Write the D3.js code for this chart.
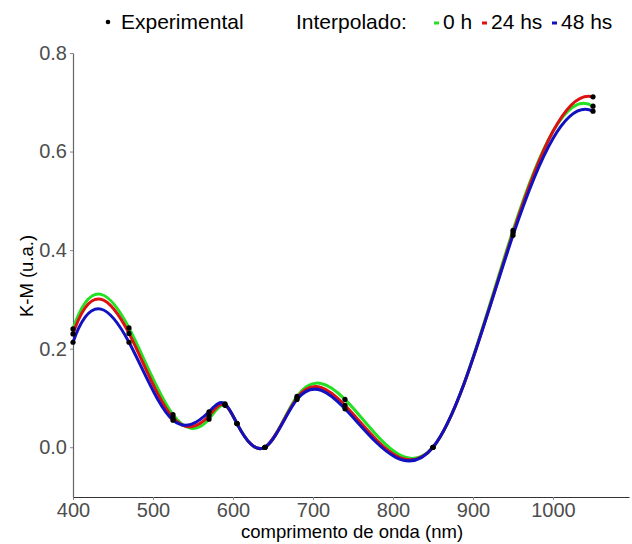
<!DOCTYPE html>
<html>
<head>
<meta charset="utf-8">
<script src="https://cdn.jsdelivr.net/npm/d3@7"></script>
<style>
  body { margin: 0; background: #fff; }
  svg { display: block; font-family: "Liberation Sans", Arial, sans-serif; }
</style>
</head>
<body>
<svg id="chart" width="632" height="544"></svg>
<script>
// wavelengths (nm) and K-M values
const wavelengths = [400, 470, 525, 570, 590, 605, 640, 680, 740, 850, 950, 1050];
const km0h  = [0.240, 0.242, 0.066, 0.057, 0.085, 0.048, 0.0, 0.103, 0.097, 0.0, 0.440, 0.692];
const km24h = [0.230, 0.231, 0.060, 0.064, 0.086, 0.048, 0.0, 0.100, 0.085, 0.0, 0.435, 0.711];
const km48h = [0.213, 0.213, 0.055, 0.072, 0.088, 0.048, 0.0, 0.097, 0.078, 0.0, 0.430, 0.682];
const seriesNames = ["0 h", "24 hs", "48 hs"];
const seriesColors = ["#22e022", "#dd1111", "#1111c0"];
const xTicks = [400, 500, 600, 700, 800, 900, 1000];
const yTicks = [0.0, 0.2, 0.4, 0.6, 0.8];

const svg = d3.select("#chart");
const plotLeft = 73, plotRight = 629, plotTop = 53, plotBottom = 497;

const x = d3.scaleLinear().domain([400, 1095]).range([plotLeft, plotRight]);
const y = d3.scaleLinear().domain([-0.101, 0.8]).range([plotBottom, plotTop]);

// cubic spline in x with Forsythe-Malcolm-Moler end conditions, drawn as bezier pieces
function curveSplineX(context) {
    let pts = [];
    return {
        areaStart() {}, areaEnd() {},
        lineStart() { pts = []; },
        point(px, py) { pts.push([+px, +py]); },
        lineEnd() {
            const n = pts.length;
            if (n < 4) return;
            const X = pts.map(p => p[0]), Y = pts.map(p => p[1]);
            const b = new Array(n).fill(0), c = new Array(n).fill(0), d = new Array(n).fill(0);
            d[0] = X[1] - X[0];
            c[1] = (Y[1] - Y[0]) / d[0];
            for (let k = 1; k <= n - 2; k++) {
                d[k] = X[k + 1] - X[k];
                b[k] = 2 * (d[k - 1] + d[k]);
                c[k + 1] = (Y[k + 1] - Y[k]) / d[k];
                c[k] = c[k + 1] - c[k];
            }
            b[0] = -d[0];
            b[n - 1] = -d[n - 2];
            c[0] = c[2] / (X[3] - X[1]) - c[1] / (X[2] - X[0]);
            c[n - 1] = c[n - 2] / (X[n - 1] - X[n - 3]) - c[n - 3] / (X[n - 2] - X[n - 4]);
            c[0] = c[0] * d[0] * d[0] / (X[3] - X[0]);
            c[n - 1] = -c[n - 1] * d[n - 2] * d[n - 2] / (X[n - 1] - X[n - 4]);
            for (let k = 1; k <= n - 1; k++) {
                const t = d[k - 1] / b[k - 1];
                b[k] -= t * d[k - 1];
                c[k] -= t * c[k - 1];
            }
            c[n - 1] /= b[n - 1];
            for (let k = n - 2; k >= 0; k--) c[k] = (c[k] - d[k] * c[k + 1]) / b[k];
            // slopes at the knots
            const slope = new Array(n);
            slope[n - 1] = (Y[n - 1] - Y[n - 2]) / d[n - 2] + d[n - 2] * (c[n - 2] + 2 * c[n - 1]);
            for (let k = 0; k <= n - 2; k++) slope[k] = (Y[k + 1] - Y[k]) / d[k] - d[k] * (c[k + 1] + 2 * c[k]);

            context.moveTo(X[0], Y[0]);
            for (let k = 0; k < n - 1; k++) {
                const h = X[k + 1] - X[k];
                context.bezierCurveTo(X[k] + h / 3, Y[k] + slope[k] * h / 3,
                    X[k + 1] - h / 3, Y[k + 1] - slope[k + 1] * h / 3, X[k + 1], Y[k + 1]);
            }
        }
    };
}

// axes
const xAxis = svg.append("g")
    .attr("transform", `translate(0,${plotBottom})`)
    .call(d3.axisBottom(x).tickValues(xTicks).tickFormat(d3.format("d")).tickSize(3).tickSizeOuter(0).tickPadding(3));
xAxis.select(".domain").attr("stroke", "#333").attr("stroke-width", 1.2);
xAxis.selectAll(".tick line").attr("stroke", "#888");
xAxis.selectAll(".tick text").attr("fill", "#4d4d4d").style("font-size", "20px");

const yAxis = svg.append("g")
    .attr("transform", `translate(${plotLeft},0)`)
    .call(d3.axisLeft(y).tickValues(yTicks).tickFormat(d3.format(".1f")).tickSize(3).tickSizeOuter(0).tickPadding(3));
yAxis.select(".domain").attr("stroke", "#666").attr("stroke-width", 1.2);
yAxis.selectAll(".tick line").attr("stroke", "#888");
yAxis.selectAll(".tick text").attr("fill", "#4d4d4d").style("font-size", "20px");

// axis titles
svg.append("text")
    .attr("x", 352).attr("y", 538)
    .attr("text-anchor", "middle")
    .style("font-size", "18.5px")
    .text("comprimento de onda (nm)");

svg.append("text")
    .attr("transform", "translate(33,276) rotate(-90)")
    .attr("text-anchor", "middle")
    .style("font-size", "18.5px")
    .text("K-M (u.a.)");

// interpolated curves
const allSeries = [km0h, km24h, km48h];
const line = d3.line()
    .x((d, i) => x(wavelengths[i]))
    .y(d => y(d))
    .curve(curveSplineX);

svg.append("g").selectAll("path")
    .data(allSeries)
    .enter().append("path")
    .attr("d", d => line(d))
    .attr("fill", "none")
    .attr("stroke", (d, i) => seriesColors[i])
    .attr("stroke-width", 3);

// experimental points
const points = [];
allSeries.forEach(s => s.forEach((v, i) => points.push([wavelengths[i], v])));
svg.append("g").selectAll("circle")
    .data(points)
    .enter().append("circle")
    .attr("cx", d => x(d[0]))
    .attr("cy", d => y(d[1]))
    .attr("r", 2.6)
    .attr("fill", "#000");

// legend
const legend = svg.append("g").style("font-size", "21px");
legend.append("circle").attr("cx", 108).attr("cy", 22).attr("r", 2.3).attr("fill", "#000");
legend.append("text").attr("x", 121).attr("y", 29).text("Experimental");
legend.append("text").attr("x", 296).attr("y", 29).text("Interpolado:");
const legendX = [434, 482, 552];
seriesNames.forEach((name, i) => {
    legend.append("line")
        .attr("x1", legendX[i]).attr("x2", legendX[i] + 5)
        .attr("y1", 23).attr("y2", 23)
        .attr("stroke", seriesColors[i]).attr("stroke-width", 3);
    legend.append("text").attr("x", legendX[i] + 9).attr("y", 29).text(name);
});
</script>
</body>
</html>
